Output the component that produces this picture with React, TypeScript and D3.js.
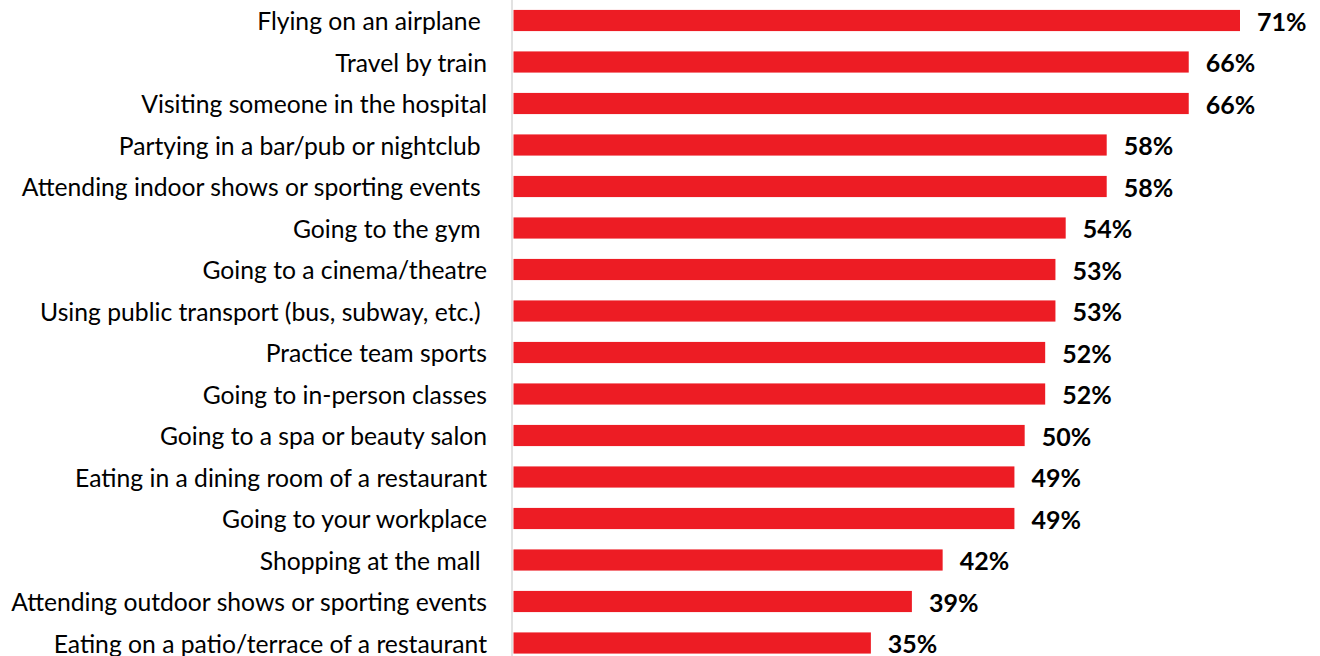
import * as d3 from 'd3';
import { useEffect, useRef } from 'react';

const WIDTH = 1320, HEIGHT = 656;

// categories (trailing spaces are in the original labels)
const activities = [
    "Flying on an airplane ",
    "Travel by train",
    "Visiting someone in the hospital",
    "Partying in a bar/pub or nightclub ",
    "Attending indoor shows or sporting events ",
    "Going to the gym ",
    "Going to a cinema/theatre",
    "Using public transport (bus, subway, etc.) ",
    "Practice team sports",
    "Going to in-person classes",
    "Going to a spa or beauty salon",
    "Eating in a dining room of a restaurant",
    "Going to your workplace",
    "Shopping at the mall ",
    "Attending outdoor shows or sporting events",
    "Eating on a patio/terrace of a restaurant",
];

const shares = [71, 66, 66, 58, 58, 54, 53, 53, 52, 52, 50, 49, 49, 42, 39, 35];

const x = d3.scaleLinear().domain([0, 71]).range([512, 1240]);

const y = d3.scaleBand()
    .domain(activities)
    .range([-0.25, 663.75])
    .paddingInner(0.49)
    .paddingOuter(0.245);

const App = () => {
    const ref = useRef(null);

    useEffect(() => {
        document.body.style.margin = '0';
        const svg = d3.select(ref.current);
        svg.selectAll('*').remove();

        const rows = activities.map((name, i) => ({ name, value: shares[i] }));

        // bars
        svg.append('g')
            .selectAll('rect')
            .data(rows)
            .join('rect')
            .attr('x', x(0) + 1.5)
            .attr('y', d => y(d.name))
            .attr('width', d => x(d.value) - x(0) - 1.5)
            .attr('height', y.bandwidth())
            .attr('fill', '#ED1C24');

        // category axis line
        svg.append('line')
            .attr('x1', x(0)).attr('x2', x(0))
            .attr('y1', 0).attr('y2', HEIGHT)
            .attr('stroke', '#d9d9d9')
            .attr('stroke-width', 1.5);

        // category labels
        svg.append('g')
            .selectAll('text')
            .data(rows)
            .join('text')
            .attr('x', 487)
            .attr('y', d => y(d.name) + y.bandwidth() / 2)
            .attr('text-anchor', 'end')
            .attr('dominant-baseline', 'central')
            .style('white-space', 'pre')
            .style('font-family', 'Lato, sans-serif')
            .style('font-size', '24.7px')
            .attr('fill', '#000')
            .text(d => d.name);

        // value labels
        svg.append('g')
            .selectAll('text')
            .data(rows)
            .join('text')
            .attr('x', d => x(d.value) + 17)
            .attr('y', d => y(d.name) + y.bandwidth() / 2)
            .attr('dominant-baseline', 'central')
            .style('font-family', 'Lato, sans-serif')
            .style('font-size', '25px')
            .style('font-weight', 'bold')
            .attr('fill', '#000')
            .text(d => `${d.value}%`);
    }, []);

    return (
        <svg ref={ref} width={WIDTH} height={HEIGHT} style={{ display: 'block', background: '#fff' }} />
    );
};

export default App;
